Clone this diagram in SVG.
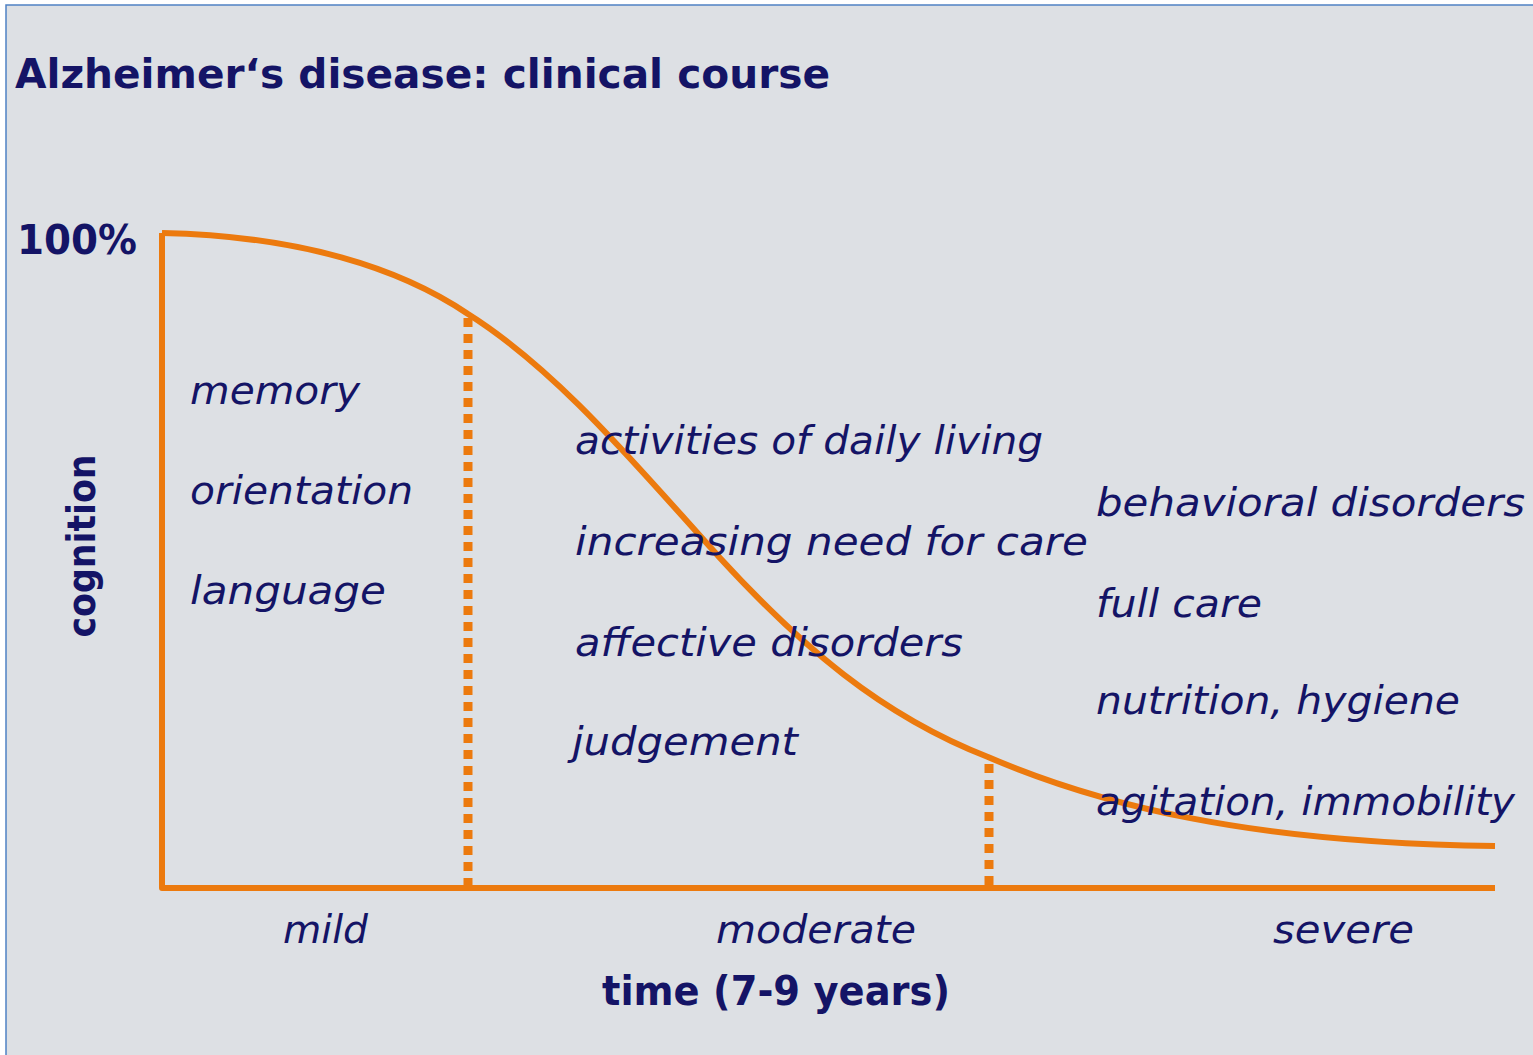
<svg xmlns="http://www.w3.org/2000/svg" width="1533" height="1055" viewBox="0 0 1533 1055">
<style>
.t{fill:#141466;font-family:"DejaVu Sans","Liberation Sans",sans-serif}
.b{font-weight:bold}
.i{font-style:italic;font-size:39px}
.ax{fill:none;stroke:#ec7a0e;stroke-width:6;stroke-linejoin:round;stroke-linecap:butt}
.dot{fill:none;stroke:#ec7a0e;stroke-width:9;stroke-dasharray:9 7}
</style>
<rect x="0" y="0" width="1533" height="1055" fill="#ffffff"/>
<rect x="6" y="5" width="1545" height="1070" fill="#dde0e4" stroke="#4f81c4" stroke-width="1.5"/>
<g id="title"><text class="t b" x="15" y="88" font-size="40" textLength="815" lengthAdjust="spacingAndGlyphs">Alzheimer‘s disease: clinical course</text></g>
<g id="axis-labels">
<text class="t b" x="17" y="254" font-size="40" textLength="120" lengthAdjust="spacingAndGlyphs">100%</text>
<text class="t b" x="0" y="0" font-size="39" text-anchor="middle" transform="translate(95,546) rotate(-90)" textLength="183" lengthAdjust="spacingAndGlyphs">cognition</text>
<text class="t b" x="602" y="1005" font-size="40" textLength="348" lengthAdjust="spacingAndGlyphs">time (7-9 years)</text>
</g>
<g id="connectors">
<path class="ax" d="M1495,888 H162 V233"/>
<path class="ax" d="M162,233 C300,236 400,268 468,314 C560,372 640,470 720,558 C800,645 880,715 988,757 C1100,805 1250,843 1495,846"/>
<line class="dot" x1="468" y1="318" x2="468" y2="886"/>
<line class="dot" x1="989" y1="764" x2="989" y2="886"/>
</g>
<g id="mild">
<text class="t i" x="190" y="404" textLength="170" lengthAdjust="spacingAndGlyphs">memory</text>
<text class="t i" x="190" y="504" textLength="223" lengthAdjust="spacingAndGlyphs">orientation</text>
<text class="t i" x="190" y="604" textLength="196" lengthAdjust="spacingAndGlyphs">language</text>
<text class="t i" x="283" y="943" textLength="85" lengthAdjust="spacingAndGlyphs">mild</text>
</g>
<g id="moderate">
<text class="t i" x="575" y="454" textLength="468" lengthAdjust="spacingAndGlyphs">activities of daily living</text>
<text class="t i" x="575" y="555" textLength="513" lengthAdjust="spacingAndGlyphs">increasing need for care</text>
<text class="t i" x="575" y="656" textLength="388" lengthAdjust="spacingAndGlyphs">affective disorders</text>
<text class="t i" x="572" y="755" textLength="226" lengthAdjust="spacingAndGlyphs">judgement</text>
<text class="t i" x="716" y="943" textLength="200" lengthAdjust="spacingAndGlyphs">moderate</text>
</g>
<g id="severe">
<text class="t i" x="1096" y="516" textLength="429" lengthAdjust="spacingAndGlyphs">behavioral disorders</text>
<text class="t i" x="1096" y="617" textLength="166" lengthAdjust="spacingAndGlyphs">full care</text>
<text class="t i" x="1096" y="714" textLength="364" lengthAdjust="spacingAndGlyphs">nutrition, hygiene</text>
<text class="t i" x="1096" y="815" textLength="419" lengthAdjust="spacingAndGlyphs">agitation, immobility</text>
<text class="t i" x="1273" y="943" textLength="141" lengthAdjust="spacingAndGlyphs">severe</text>
</g>
</svg>
